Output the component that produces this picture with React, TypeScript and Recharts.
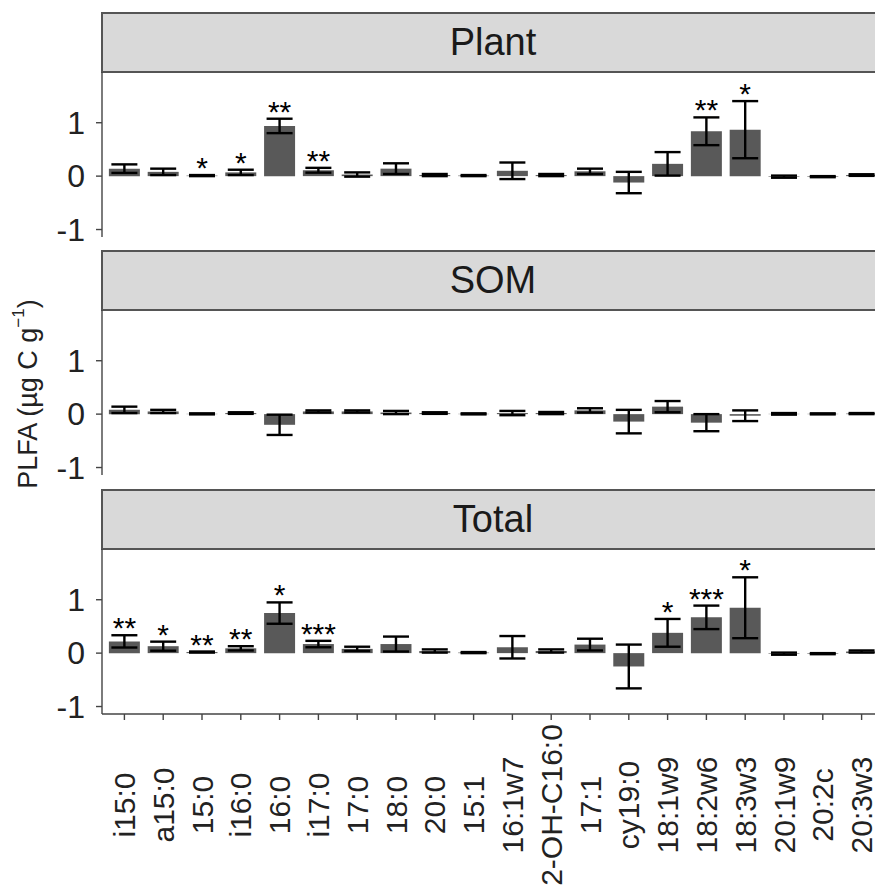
import React from "react";
import {
  ComposedChart,
  Bar,
  Line,
  XAxis,
  YAxis,
  ErrorBar,
  LabelList,
} from "recharts";

const CATEGORIES = [
  "i15:0", "a15:0", "15:0", "i16:0", "16:0", "i17:0", "17:0", "18:0", "20:0", "15:1",
  "16:1w7", "2-OH-C16:0", "17:1", "cy19:0", "18:1w9", "18:2w6", "18:3w3", "20:1w9", "20:2c", "20:3w3",
];

const PLANT_MEAN = [0.14, 0.08, 0.01, 0.07, 0.94, 0.11, 0.03, 0.14, 0.02, 0.01, 0.1, 0.02, 0.09, -0.12, 0.23, 0.84, 0.87, -0.01, -0.01, 0.02];
const PLANT_SE = [0.08, 0.06, 0.01, 0.05, 0.135, 0.045, 0.04, 0.1, 0.02, 0.01, 0.155, 0.02, 0.05, 0.2, 0.22, 0.26, 0.535, 0.02, 0.01, 0.015];
const PLANT_SIG = ["", "", "*", "*", "**", "**", "", "", "", "", "", "", "", "", "", "**", "*", "", "", ""];

const SOM_MEAN = [0.08, 0.05, 0.005, 0.02, -0.2, 0.05, 0.05, 0.03, 0.02, 0.005, 0.02, 0.02, 0.07, -0.14, 0.14, -0.16, -0.03, 0.005, 0.005, 0.01];
const SOM_SE = [0.06, 0.03, 0.01, 0.015, 0.19, 0.02, 0.02, 0.03, 0.015, 0.01, 0.04, 0.02, 0.04, 0.22, 0.105, 0.16, 0.1, 0.015, 0.01, 0.01];
const SOM_SIG = CATEGORIES.map(() => "");

const TOTAL_MEAN = [0.22, 0.13, 0.02, 0.09, 0.75, 0.17, 0.08, 0.17, 0.04, 0.01, 0.11, 0.04, 0.16, -0.25, 0.38, 0.67, 0.85, -0.01, -0.01, 0.03];
const TOTAL_SE = [0.115, 0.085, 0.01, 0.04, 0.2, 0.06, 0.04, 0.14, 0.03, 0.01, 0.21, 0.03, 0.11, 0.41, 0.26, 0.22, 0.57, 0.02, 0.01, 0.02];
const TOTAL_SIG = ["**", "*", "**", "**", "*", "***", "", "", "", "", "", "", "", "", "*", "***", "*", "", "", ""];

const Y_TICKS = [-1, 0, 1];

const FONT = "'Liberation Sans', Arial, sans-serif";
const PLOT_LEFT = 102;
const PLOT_H = 165;
const CHART_W = 890;

function buildRows(mean: number[], se: number[], sig: string[]) {
  return CATEGORIES.map((name, i) => ({
    name,
    value: mean[i],
    err: se[i],
    sig: sig[i],
    top: sig[i] ? mean[i] + se[i] : null,
  }));
}

const renderSig = (props: any) => {
  const { x, y, value } = props;
  if (!value || y == null || Number.isNaN(y)) return null;
  return (
    <text x={x} y={y + 3} textAnchor="middle" fontSize={30} fill="#000" fontFamily={FONT}>
      {value}
    </text>
  );
};

const XTick = (props: any) => {
  const { x, y, payload } = props;
  const cy = y + 83;
  return (
    <text
      x={x}
      y={cy}
      transform={`rotate(-90, ${x}, ${cy})`}
      textAnchor="middle"
      dominantBaseline="central"
      fontSize={30}
      fill="#222"
      fontFamily={FONT}
    >
      {payload.value}
    </text>
  );
};

function Panel({
  label,
  rows,
  plotTop,
  showX,
}: {
  label: string;
  rows: any[];
  plotTop: number;
  showX: boolean;
}) {
  const xHeight = showX ? 174 : 0;
  const bottomPad = showX ? 0 : 20;
  return (
    <>
      <div
        style={{
          position: "absolute",
          left: PLOT_LEFT - 1,
          top: plotTop - 60,
          width: 784,
          height: 61,
          boxSizing: "border-box",
          background: "#d9d9d9",
          border: "2px solid #555",
          display: "flex",
          alignItems: "center",
          justifyContent: "center",
          fontFamily: FONT,
          fontSize: 38,
          color: "#1a1a1a",
        }}
      >
        {label}
      </div>
      <div style={{ position: "absolute", left: 0, top: plotTop }}>
        <ComposedChart
          width={CHART_W}
          height={PLOT_H + xHeight + bottomPad}
          data={rows}
          margin={{ top: 0, right: CHART_W - 884, left: 0, bottom: bottomPad }}
          barCategoryGap="10%"
        >
          <XAxis
            dataKey="name"
            height={xHeight}
            padding={{ left: 3, right: 3 }}
            interval={0}
            axisLine={{ stroke: "#444", strokeWidth: 1.4 }}
            tickLine={showX ? { stroke: "#444", strokeWidth: 1.4 } : false}
            tickSize={6}
            tick={showX ? <XTick /> : false}
          />
          <YAxis
            width={PLOT_LEFT}
            domain={[-1.14, 1.95]}
            allowDataOverflow
            ticks={Y_TICKS}
            interval={0}
            axisLine={{ stroke: "#444", strokeWidth: 1.4 }}
            tickLine={{ stroke: "#444", strokeWidth: 1.4 }}
            tickSize={6}
            tickMargin={11}
            tick={{ fontSize: 32, fill: "#222", fontFamily: FONT }}
          />
          <Bar dataKey="value" fill="#595959" isAnimationActive={false}>
            <ErrorBar dataKey="err" width={13} stroke="#000" strokeWidth={2.4} />
          </Bar>
          <Line
            dataKey="top"
            stroke="none"
            dot={false}
            activeDot={false}
            legendType="none"
            isAnimationActive={false}
          >
            <LabelList dataKey="sig" content={renderSig} />
          </Line>
        </ComposedChart>
      </div>
    </>
  );
}

export default function App() {
  const plant = buildRows(PLANT_MEAN, PLANT_SE, PLANT_SIG);
  const som = buildRows(SOM_MEAN, SOM_SE, SOM_SIG);
  const total = buildRows(TOTAL_MEAN, TOTAL_SE, TOTAL_SIG);
  return (
    <div
      style={{
        position: "absolute",
        left: 0,
        top: 0,
        width: 875,
        height: 888,
        overflow: "hidden",
        background: "#fff",
      }}
    >
      <Panel label="Total" rows={total} plotTop={549} showX={true} />
      <Panel label="SOM" rows={som} plotTop={310} showX={false} />
      <Panel label="Plant" rows={plant} plotTop={72} showX={false} />
      <svg style={{ position: "absolute", left: 0, top: 0 }} width={60} height={888}>
        <text
          x={28}
          y={394}
          transform="rotate(-90, 28, 394)"
          textAnchor="middle"
          dominantBaseline="central"
          fontSize={27}
          fill="#222"
          fontFamily={FONT}
        >
          PLFA (µg C g
          <tspan dy={-10} fontSize={17}>−1</tspan>
          <tspan dy={10}>)</tspan>
        </text>
      </svg>
    </div>
  );
}
